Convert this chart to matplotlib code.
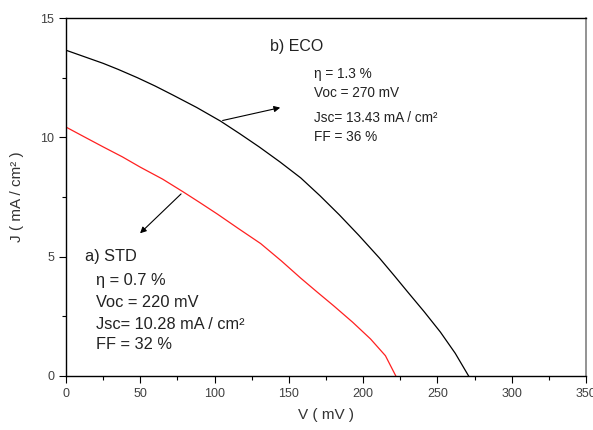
import matplotlib
matplotlib.use("Agg")
import matplotlib.pyplot as plt
from matplotlib.ticker import MultipleLocator

plt.rcParams['font.family'] = ['Liberation Sans', 'DejaVu Sans']

# ECO curve (black)
eco_v = [0, 10, 25, 35, 48, 60, 72, 88, 104, 117, 130, 144, 158, 171, 184, 197, 211, 221, 230, 241, 252, 262, 271]
eco_j = [13.65, 13.43, 13.1, 12.85, 12.5, 12.15, 11.77, 11.25, 10.68, 10.15, 9.6, 8.97, 8.3,
         7.55, 6.75, 5.9, 4.94, 4.2, 3.52, 2.7, 1.84, 0.95, 0.0]
# STD curve (red)
std_v = [0, 12, 25, 38, 50, 65, 79, 90, 102, 116, 131, 145, 158, 169, 180, 193, 205, 215, 222]
std_j = [10.43, 10.03, 9.6, 9.18, 8.75, 8.25, 7.71, 7.27, 6.78, 6.18, 5.55, 4.82, 4.1,
         3.52, 2.95, 2.25, 1.55, 0.85, 0.0]

eco_info = ["η = 1.3 %", "Voc = 270 mV", "Jsc= 13.43 mA / cm²", "FF = 36 %"]
std_info = ["η = 0.7 %", "Voc = 220 mV", "Jsc= 10.28 mA / cm²", "FF = 32 %"]

fig = plt.figure(figsize=(5.93, 4.30), dpi=100)
ax = fig.add_axes([66/593, 1-376/430, 520/593, 358/430])

ax.plot(eco_v, eco_j, color='black', lw=0.9)
ax.plot(std_v, std_j, color='#ff2020', lw=0.9)

ax.set_xlim(0, 350)
ax.set_ylim(0, 15)
ax.xaxis.set_major_locator(MultipleLocator(50))
ax.xaxis.set_minor_locator(MultipleLocator(25))
ax.yaxis.set_major_locator(MultipleLocator(5))
ax.yaxis.set_minor_locator(MultipleLocator(2.5))
ax.tick_params(which='major', direction='out', length=5, width=0.8, labelsize=9, labelcolor='#404040')
ax.tick_params(which='minor', direction='out', length=3, width=0.8)
for s in ['left', 'bottom', 'top']:
    ax.spines[s].set_linewidth(1.0)
ax.spines['right'].set_color('#808080')
ax.spines['right'].set_linewidth(1.2)

ax.set_xlabel("V ( mV )", fontsize=11, color='#333333', labelpad=6)
ax.set_ylabel("J ( mA / cm² )", fontsize=11, color='#333333', labelpad=12)

# arrows
ax.annotate("", xy=(146, 11.27), xytext=(103.6, 10.68),
            arrowprops=dict(arrowstyle='-|>', color='black', lw=0.8, mutation_scale=9))
ax.annotate("", xy=(48.5, 5.9), xytext=(78.8, 7.71),
            arrowprops=dict(arrowstyle='-|>', color='black', lw=0.8, mutation_scale=9))

# ECO text
ax.text(155.5, 13.8, "b) ECO", fontsize=11.5, color='#222222', va='center', ha='center')
eco_y = [12.67, 11.87, 10.83, 10.03]
for t, y in zip(eco_info, eco_y):
    ax.text(167, y, t, fontsize=9.8, color='#222222', va='center', ha='left')

# STD text
ax.text(12.5, 5.0, "a) STD", fontsize=11.8, color='#222222', va='center', ha='left')
std_y = [4.0, 3.1, 2.15, 1.3]
for t, y in zip(std_info, std_y):
    ax.text(20, y, t, fontsize=11.8, color='#222222', va='center', ha='left')

fig.savefig("out.png", dpi=100)
